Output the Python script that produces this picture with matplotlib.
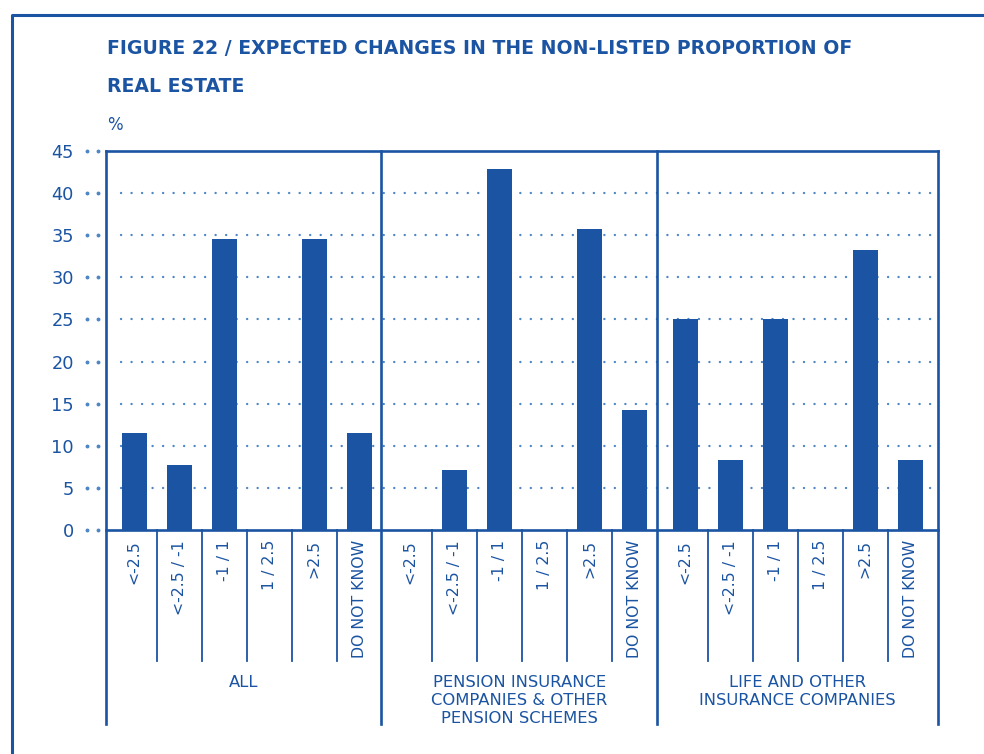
import matplotlib.pyplot as plt
import matplotlib.transforms as mtransforms
from matplotlib.lines import Line2D

plt.rcParams['font.family'] = ['DejaVu Sans']

navy = '#1b54a2'
dots = '#4f86c6'

categories = ['<-2.5', '<-2.5 / -1', '-1 / 1', '1 / 2.5', '>2.5', 'DO NOT KNOW']
groups = ['ALL', 'PENSION INSURANCE\nCOMPANIES & OTHER\nPENSION SCHEMES',
          'LIFE AND OTHER\nINSURANCE COMPANIES']
vals_all = [11.5, 7.7, 34.6, 0, 34.6, 11.5]
vals_pension = [0, 7.1, 42.9, 0, 35.7, 14.3]
vals_life = [25.0, 8.3, 25.0, 0, 33.3, 8.3]
yticks = [0, 5, 10, 15, 20, 25, 30, 35, 40, 45]

series = [vals_all, vals_pension, vals_life]
group_start = [0, 6.12, 12.25]
group_end = 18.5
offset = 0.63

fig = plt.figure(figsize=(9.84, 7.54), dpi=100)
ax = fig.add_axes([106/984, 1 - 530/754, 832/984, 379/754])

for g, vals in enumerate(series):
    xs = [group_start[g] + offset + j for j in range(len(vals))]
    ax.bar(xs, vals, width=0.56, color=navy, zorder=3)

ax.set_xlim(0, group_end)
ax.set_ylim(0, 45)

# dotted gridlines
for y in yticks[1:-1]:
    ax.axhline(y, xmin=0.018, xmax=1, color=dots, lw=1.7,
               linestyle=(0, (0.05, 4.4)), dash_capstyle='round', zorder=1)

for s in ax.spines.values():
    s.set_color(navy)
    s.set_linewidth(1.9)
ax.spines['left'].set_visible(False)
ax.spines['right'].set_visible(False)

ax.set_xticks([])
ax.set_yticks(yticks)
ax.set_yticklabels([str(t) for t in yticks], fontsize=12.8, color=navy)
ax.tick_params(axis='y', length=0, pad=23)

# tick dots left of the axis
for y in yticks:
    ax.plot([-0.0228, -0.0096], [y / 45, y / 45], 'o', ms=1.8, color=dots,
            transform=ax.transAxes, clip_on=False)

trans = mtransforms.blended_transform_factory(ax.transData, ax.transAxes)
bounds = group_start + [group_end]
for b in bounds:
    ax.add_line(Line2D([b, b], [1, -0.512], color=navy, lw=1.9,
                       transform=trans, clip_on=False, zorder=4))

for g in range(3):
    for j in range(len(categories)):
        x = group_start[g] + offset + j
        ax.text(x, -0.026, categories[j], rotation=90, ha='center', va='top',
                fontsize=11.3, color=navy, transform=trans)
        if j < len(categories) - 1:
            ax.add_line(Line2D([x + 0.5, x + 0.5], [0, -0.346], color=navy,
                               lw=1.3, transform=trans, clip_on=False))
    mid = (bounds[g] + bounds[g + 1]) / 2
    ax.text(mid, -0.383, groups[g], ha='center', va='top', fontsize=11.8,
            color=navy, transform=trans, linespacing=1.25)

# titles
fig.text(107/984, 1 - 48/754, 'FIGURE 22 / EXPECTED CHANGES IN THE NON-LISTED PROPORTION OF',
         fontsize=13.6, fontweight='bold', color=navy, va='center')
fig.text(107/984, 1 - 86/754, 'REAL ESTATE', fontsize=13.6, fontweight='bold',
         color=navy, va='center')
fig.text(107/984, 1 - 125/754, '%', fontsize=12, color=navy, va='center')

# outer frame
fig.add_artist(Line2D([12/984, 12/984, 1], [0, 1 - 15/754, 1 - 15/754],
                      color=navy, lw=2.2, transform=fig.transFigure))

fig.savefig('out.png', dpi=100)
